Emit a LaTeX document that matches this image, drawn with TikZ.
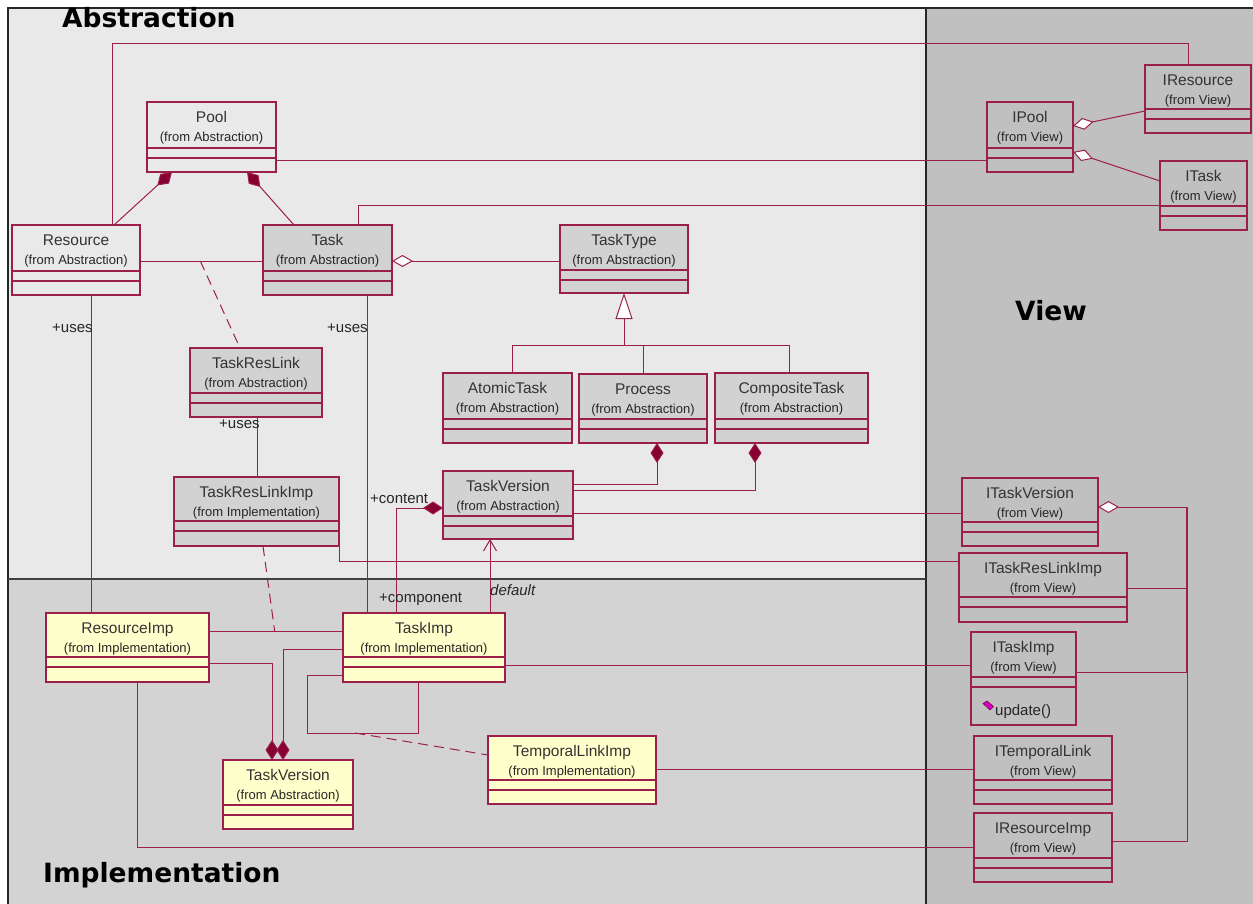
\documentclass[tikz,border=0pt]{standalone}
\usepackage{fontspec}
\setmainfont{Liberation Sans}
\newfontfamily\titlefont{DejaVu Sans}
\usetikzlibrary{arrows.meta,calc}

\definecolor{wire}{RGB}{155,30,75}
\definecolor{wirefill}{RGB}{135,0,50}
\definecolor{absbg}{RGB}{233,233,233}
\definecolor{impbg}{RGB}{211,211,211}
\definecolor{viewbg}{RGB}{192,192,192}
\definecolor{clsgray}{RGB}{210,210,210}
\definecolor{clsyellow}{RGB}{255,255,204}
\definecolor{opicon}{RGB}{210,0,210}

\tikzset{
  compo/.tip={Diamond[length=20pt,width=13pt,fill=wirefill]},
  aggr/.tip={Diamond[length=21pt,width=12pt,fill=white]},
  gen/.tip={Triangle[length=26pt,width=17pt,fill=white]},
  navbarb/.tip={Straight Barb[length=11pt,width=13pt]},
  wireline/.style={draw=wire,line width=1pt},
  dashwire/.style={wireline,dash pattern=on 10pt off 6pt},
  classbox/.style={draw=wire,line width=1.2pt,rectangle,inner sep=0pt,outer sep=0pt},
  classrule/.style={draw=wire,line width=1.1pt},
  absbox/.style={fill=absbg},
  graybox/.style={fill=clsgray},
  yellowbox/.style={fill=clsyellow},
  viewbox/.style={fill=viewbg},
  clsname/.style={anchor=base,inner sep=0pt,text=black!80,font=\fontsize{15.5}{18}\selectfont},
  clsfrom/.style={anchor=base,inner sep=0pt,text=black!85,font=\fontsize{13}{15}\selectfont},
  rolelabel/.style={anchor=base west,inner sep=0pt,text=black!85,font=\fontsize{15}{17}\selectfont},
  regiontitle/.style={anchor=base west,inner sep=0pt,font=\titlefont\bfseries\fontsize{26.5}{30}\selectfont},
}

% [fill style]{name}{x1}{y1}{x2}{y2}{first rule}{class name}{package}
\newcommand{\umlclass}[9][absbox]{%
  \node[classbox,#1,anchor=north west,minimum width=#5-#3,minimum height=#6-#4] (#2) at (#3,#4) {};
  \draw[classrule] ({#3},{#7}) -- ({#5},{#7}) ({#3},{#7+10}) -- ({#5},{#7+10});
  \node[clsname] (#2-name) at ($(#2.north)+(0,20.5)$) {#8};
  \node[clsfrom] (#2-from) at ($(#2.north)+(0,39.5)$) {#9};
}

\begin{document}
\begin{tikzpicture}[x=1pt,y=-1pt]
\useasboundingbox (0,0) rectangle (1253,904);
\fill[white] (0,0) rectangle (1253,904);

% package regions
\fill[absbg] (8,8) rectangle (926,579);
\fill[impbg] (8,579) rectangle (926,904);
\fill[viewbg] (926,8) rectangle (1253,904);
\draw[black!85,line width=1.3pt] (8,904) -- (8,8) -- (1253,8);
\draw[black!85,line width=1.3pt] (926,8) -- (926,904);
\draw[black!75,line width=1.1pt] (8,579) -- (926,579);

\node[regiontitle] (abstitle) at (62,28) {Abstraction};
\node[regiontitle] (viewtitle) at (1015,320) {View};
\node[regiontitle] (imptitle) at (43,882) {Implementation};

% Abstraction classes
\umlclass{pool}{147}{102}{276}{172}{148}{Pool}{(from Abstraction)}
\umlclass{resource}{12}{225}{140}{295}{271}{Resource}{(from Abstraction)}
\umlclass[graybox]{task}{263}{225}{392}{295}{271}{Task}{(from Abstraction)}
\umlclass[graybox]{tasktype}{560}{225}{688}{293}{270}{TaskType}{(from Abstraction)}
\umlclass[graybox]{taskreslink}{190}{348}{322}{417}{393}{TaskResLink}{(from Abstraction)}
\umlclass[graybox]{atomictask}{443}{373}{572}{443}{419}{AtomicTask}{(from Abstraction)}
\umlclass[graybox]{process}{579}{374}{707}{443}{419}{Process}{(from Abstraction)}
\umlclass[graybox]{compositetask}{715}{373}{868}{443}{419}{CompositeTask}{(from Abstraction)}
\umlclass[graybox]{taskversion}{443}{471}{573}{539}{516}{TaskVersion}{(from Abstraction)}
\umlclass[graybox]{taskreslinkimp}{174}{477}{339}{546}{521}{TaskResLinkImp}{(from Implementation)}

% Implementation classes
\umlclass[yellowbox]{resourceimp}{46}{613}{209}{682}{657}{ResourceImp}{(from Implementation)}
\umlclass[yellowbox]{taskimp}{343}{613}{505}{682}{657}{TaskImp}{(from Implementation)}
\umlclass[yellowbox]{taskversionimp}{223}{760}{353}{829}{805}{TaskVersion}{(from Abstraction)}
\umlclass[yellowbox]{templinkimp}{488}{736}{656}{804}{780}{TemporalLinkImp}{(from Implementation)}

% View interfaces
\umlclass[viewbox]{ipool}{987}{102}{1073}{172}{148}{IPool}{(from View)}
\umlclass[viewbox]{iresource}{1145}{65}{1251}{133}{109}{IResource}{(from View)}
\umlclass[viewbox]{itask}{1160}{161}{1247}{230}{206}{ITask}{(from View)}
\umlclass[viewbox]{itaskversion}{962}{478}{1098}{546}{522}{ITaskVersion}{(from View)}
\umlclass[viewbox]{itaskreslinkimp}{959}{553}{1127}{622}{597}{ITaskResLinkImp}{(from View)}
\umlclass[viewbox]{itaskimp}{971}{632}{1076}{725}{677}{ITaskImp}{(from View)}
\umlclass[viewbox]{itemporallink}{974}{736}{1112}{804}{780}{ITemporalLink}{(from View)}
\umlclass[viewbox]{iresourceimp}{974}{813}{1112}{882}{858}{IResourceImp}{(from View)}

% operation of ITaskImp
\filldraw[fill=opicon,draw=purple!70!black,line width=0.6pt]
  (983,703.5) -- (987,701) -- (993.5,706.5) -- (990,710) -- cycle;
\node[rolelabel] (updateop) at (995,715) {update()};

% ---- connectors: Abstraction to View
\draw[wireline] ($(resource.north west)+(100,0)$) -- (112,44) -- (1188,44) -- ($(iresource.north west)+(43,0)$);
\draw[wireline] ($(pool.north east)+(0,59)$) -- ($(ipool.north west)+(0,59)$);
\draw[wireline] ($(task.north west)+(95,0)$) |- ($(itask.north west)+(0,45)$);
\draw[wireline,aggr-] ($(ipool.north east)+(0,24)$) -- ($(iresource.north west)+(0,46)$);
\draw[wireline,aggr-] ($(ipool.north east)+(0,50)$) -- ($(itask.north west)+(0,20)$);

% ---- Abstraction package
\draw[wireline,compo-] ($(pool.south west)+(25,0)$) -- ($(resource.north west)+(102,0)$);
\draw[wireline,compo-] ($(pool.south west)+(100,0)$) -- ($(task.north west)+(31,0)$);
\draw[wireline] ($(resource.north east)+(0,36)$) -- coordinate[pos=0.49] (restasklink) ($(task.north west)+(0,36)$);
\draw[dashwire] (restasklink) -- ($(taskreslink.north west)+(50,0)$);
\draw[wireline,aggr-] ($(task.north east)+(0,36)$) -- ($(tasktype.north west)+(0,36)$);

\coordinate (genjoin) at (624,345);
\draw[wireline] ($(atomictask.north west)+(69,0)$) |- ($(compositetask.north west)+(74,-28)$) -- ($(compositetask.north west)+(74,0)$);
\draw[wireline] ($(process.north west)+(64,0)$) -- ++(0,-29);
\draw[wireline,-gen] (genjoin) -- ($(tasktype.south west)+(64,0)$);

\draw[wireline,compo-] ($(process.south west)+(78,0)$) |- ($(taskversion.north east)+(0,13)$);
\draw[wireline,compo-] ($(compositetask.south west)+(40,0)$) |- ($(taskversion.north east)+(0,19)$);
\draw[wireline] ($(taskversion.north east)+(0,42)$) -- ($(itaskversion.north west)+(0,35)$);

% ---- Abstraction to Implementation
\draw[wireline,compo-] ($(taskversion.north west)+(0,37)$) -| ($(taskimp.north west)+(53,0)$);
\node[rolelabel] (contentlbl) at (370,503) {+content};
\node[rolelabel] (componentlbl) at (379,602) {+component};
\draw[wireline] ($(task.south west)+(104,0)$) -- ($(taskimp.north west)+(24,0)$);
\node[rolelabel] (usestask) at (327,332) {+uses};
\draw[wireline] ($(resource.south west)+(79,0)$) -- ($(resourceimp.north west)+(45,0)$);
\node[rolelabel] (usesres) at (52,332) {+uses};
\draw[wireline] ($(taskreslink.south west)+(67,0)$) -- ($(taskreslinkimp.north west)+(83,0)$);
\node[rolelabel] (useslink) at (219,428) {+uses};
\draw[wireline] (taskreslinkimp.south east) |- ($(itaskreslinkimp.north west)+(0,8)$);
\draw[wireline,-navbarb] ($(taskimp.north west)+(147,0)$) -- ($(taskversion.south west)+(47,0)$);
\node[rolelabel,font=\itshape\fontsize{15}{17}\selectfont] (defaultlbl) at (490,595) {default};

% ---- Implementation package
\draw[wireline] ($(resourceimp.north east)+(0,18)$) -- coordinate[pos=0.49] (restaskimp) ($(taskimp.north west)+(0,18)$);
\draw[dashwire] ($(taskreslinkimp.south west)+(89,0)$) -- (restaskimp);
\draw[wireline,-compo] ($(resourceimp.north east)+(0,50)$) -| ($(taskversionimp.north west)+(49,0)$);
\draw[wireline,-compo] ($(taskimp.north west)+(0,36)$) -| ($(taskversionimp.north west)+(60,0)$);
\coordinate (selfloop) at (355,733);
\draw[wireline] ($(taskimp.north west)+(0,62)$) -- (307,675) -- (307,733) -- (418,733) -- ($(taskimp.south west)+(75,0)$);
\draw[dashwire] (selfloop) -- ($(templinkimp.north west)+(0,19)$);

% ---- Implementation to View
\draw[wireline] ($(taskimp.north east)+(0,52)$) -- ($(itaskimp.north west)+(0,33)$);
\draw[wireline] ($(templinkimp.north east)+(0,33)$) -- ($(itemporallink.north west)+(0,33)$);
\draw[wireline] ($(resourceimp.south west)+(91,0)$) |- ($(iresourceimp.north west)+(0,34)$);

% ---- View package
\coordinate (vjoin) at (1187,507);
\draw[wireline,aggr-] ($(itaskversion.north east)+(0,29)$) -- (vjoin);
\draw[wireline,line width=1.8pt] (vjoin) -- (1187,672);
\draw[wireline] (vjoin) |- ($(itaskreslinkimp.north east)+(0,35)$);
\draw[wireline] (vjoin) |- ($(itaskimp.north east)+(0,40)$);
\draw[wireline] (vjoin) |- ($(iresourceimp.north east)+(0,28)$);
\end{tikzpicture}
\end{document}
